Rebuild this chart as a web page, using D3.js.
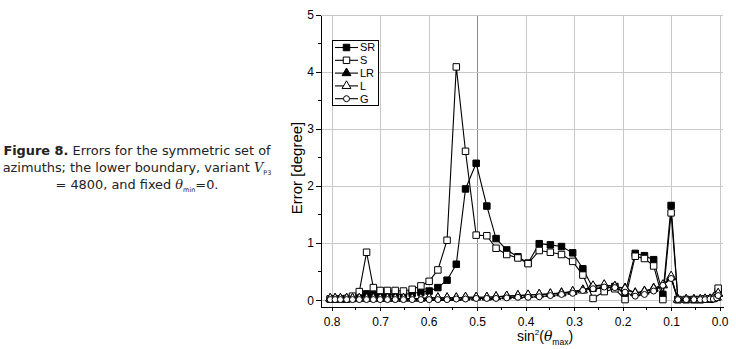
<!DOCTYPE html>
<html lang="en">
  <head>
    <meta charset="utf-8">
    <title>Figure 8</title>
    <script src="https://d3js.org/d3.v7.min.js"></script>
    <style>
      body { margin: 0; background: #fff; }
      .axis path, .axis line { stroke: #000; shape-rendering: crispEdges; }
      .axis text { font-family: "Liberation Sans", Arial, sans-serif; font-size: 12px; fill: #000; }
      .grid line { stroke: #c8c8c8; shape-rendering: crispEdges; }
      .caption { font-family: "DejaVu Sans", Verdana, sans-serif; font-size: 12.9px; fill: #222; }
    </style>
  </head>
  <body>
    <script>
    // data: sin^2(theta_max) positions and errors [degree]
    let xs = [0.803, 0.793, 0.782, 0.769, 0.757, 0.743, 0.728, 0.714, 0.700, 0.685, 0.669, 0.652,
              0.634, 0.616, 0.599, 0.581, 0.562, 0.543, 0.524, 0.502, 0.480, 0.461, 0.439, 0.416,
              0.395, 0.372, 0.349, 0.326, 0.303, 0.282, 0.261, 0.238, 0.216, 0.195, 0.174, 0.155,
              0.136, 0.117, 0.100, 0.086, 0.069, 0.053, 0.040, 0.030, 0.020, 0.013, 0.006, 0.003];

    let SR = [0.02, 0.02, 0.02, 0.02, 0.03, 0.05, 0.11, 0.10, 0.10, 0.10, 0.10, 0.10,
              0.12, 0.14, 0.16, 0.22, 0.35, 0.63, 1.95, 2.40, 1.65, 1.08, 0.88, 0.76,
              0.65, 0.99, 0.97, 0.94, 0.83, 0.55, 0.21, 0.20, 0.24, 0.12, 0.82, 0.78,
              0.71, 0.10, 1.66, 0.01, 0.01, 0.01, 0.01, 0.02, 0.02, 0.03, 0.05, 0.15];

    let S  = [0.02, 0.02, 0.02, 0.03, 0.07, 0.15, 0.84, 0.22, 0.17, 0.17, 0.17, 0.16,
              0.19, 0.25, 0.33, 0.53, 1.05, 4.09, 2.61, 1.14, 1.13, 0.91, 0.80, 0.74,
              0.64, 0.87, 0.84, 0.80, 0.68, 0.44, 0.03, 0.15, 0.20, 0.01, 0.77, 0.73,
              0.60, 0.01, 1.53, 0.01, 0.01, 0.01, 0.01, 0.02, 0.02, 0.03, 0.08, 0.21];

    let LR = [0.03, 0.03, 0.03, 0.03, 0.03, 0.03, 0.03, 0.03, 0.03, 0.03, 0.03, 0.03,
              0.03, 0.03, 0.04, 0.04, 0.04, 0.04, 0.05, 0.05, 0.05, 0.06, 0.07, 0.08,
              0.09, 0.10, 0.11, 0.13, 0.15, 0.18, 0.24, 0.26, 0.24, 0.21, 0.13, 0.16,
              0.21, 0.26, 0.40, 0.01, 0.01, 0.01, 0.01, 0.02, 0.02, 0.03, 0.05, 0.11];

    let L  = [0.03, 0.03, 0.03, 0.03, 0.03, 0.03, 0.03, 0.03, 0.03, 0.03, 0.03, 0.03,
              0.03, 0.03, 0.04, 0.04, 0.04, 0.04, 0.05, 0.05, 0.05, 0.06, 0.07, 0.08,
              0.09, 0.10, 0.11, 0.12, 0.15, 0.17, 0.25, 0.27, 0.24, 0.20, 0.12, 0.15,
              0.20, 0.27, 0.42, 0.01, 0.01, 0.01, 0.01, 0.02, 0.02, 0.03, 0.05, 0.12];

    let G  = [0.01, 0.01, 0.01, 0.01, 0.01, 0.01, 0.01, 0.01, 0.01, 0.01, 0.01, 0.01,
              0.01, 0.01, 0.01, 0.01, 0.01, 0.02, 0.02, 0.03, 0.03, 0.03, 0.04, 0.05,
              0.05, 0.06, 0.08, 0.10, 0.12, 0.17, 0.20, 0.23, 0.22, 0.14, 0.07, 0.10,
              0.16, 0.26, 0.38, 0.01, 0.01, 0.01, 0.01, 0.01, 0.02, 0.02, 0.04, 0.08];

    let seriesNames = ["SR", "S", "LR", "L", "G"];
    let seriesValues = [SR, S, LR, L, G];
    let seriesMarkers = ["square", "square", "triangle", "triangle", "circle"];
    let seriesFilled = [true, false, true, false, false];

    let xTicks = [0.8, 0.7, 0.6, 0.5, 0.4, 0.3, 0.2, 0.1, 0.0];
    let yTicks = [0, 1, 2, 3, 4, 5];

    let captionLines = [
      [["b", "Figure 8."], ["", " Errors for the symmetric set of"]],
      [["", "azimuths; the lower boundary, variant "], ["i", "V"], ["sub", "P3"]],
      [["", "= 4800, and fixed "], ["i", "θ"], ["sub", "min"], ["", "=0."]]
    ];

    //+++++++++++++++++++++++++++++++++++
    let w = 736;
    let h = 349;

    let svg = d3.select("body")
                .append("svg")
                .attr("width", w)
                .attr("height", h);

    // SCALES
    let xScale = d3.scaleLinear().domain([0.822, -0.007]).range([321, 723]);
    let yScale = d3.scaleLinear().domain([-0.12, 5]).range([307, 15]);

    // grid
    let grid = svg.append("g").attr("class", "grid");
    grid.selectAll("line.v")
        .data(xTicks)
        .enter().append("line")
        .attr("class", "v")
        .attr("x1", d => Math.round(xScale(d)) + 0.5)
        .attr("x2", d => Math.round(xScale(d)) + 0.5)
        .attr("y1", yScale(5))
        .attr("y2", yScale(-0.12))
        .style("stroke", d => d === 0.5 ? "#8a8a8a" : null);
    grid.selectAll("line.h")
        .data(yTicks)
        .enter().append("line")
        .attr("class", "h")
        .attr("x1", 321)
        .attr("x2", 723)
        .attr("y1", d => Math.round(yScale(d)) + 0.5)
        .attr("y2", d => Math.round(yScale(d)) + 0.5);

    // x axis
    let xAxis = d3.axisBottom(xScale)
                  .tickValues(xTicks)
                  .tickFormat(d3.format(".1f"))
                  .tickSize(4)
                  .tickSizeOuter(0);
    let gx = svg.append("g")
       .attr("class", "axis")
       .attr("transform", "translate(0,307)")
       .call(xAxis);
    gx.selectAll("text").attr("dy", "1.0em");
    // minor x ticks
    gx.selectAll("line.minor")
      .data(d3.range(0.75, 0, -0.1))
      .enter().append("line")
      .attr("class", "minor")
      .attr("x1", d => xScale(d)).attr("x2", d => xScale(d))
      .attr("y1", 0).attr("y2", 3);

    // y axis
    let yAxis = d3.axisLeft(yScale)
                  .tickValues(yTicks)
                  .tickFormat(d3.format("d"))
                  .tickSize(5)
                  .tickSizeOuter(0);
    let gy = svg.append("g")
       .attr("class", "axis")
       .attr("transform", "translate(321,0)")
       .call(yAxis);
    gy.selectAll("text").attr("x", -7);
    gy.selectAll("line.minor")
      .data([0.5, 1.5, 2.5, 3.5, 4.5])
      .enter().append("line")
      .attr("class", "minor")
      .attr("y1", d => yScale(d)).attr("y2", d => yScale(d))
      .attr("x1", 0).attr("x2", -3);

    // axis titles
    svg.append("text")
       .attr("transform", "translate(302,168) rotate(-90)")
       .attr("text-anchor", "middle")
       .attr("font-family", "Liberation Sans, Arial, sans-serif")
       .attr("font-size", "15px")
       .text("Error [degree]");

    let xt = svg.append("text")
       .attr("x", 545)
       .attr("y", 341)
       .attr("text-anchor", "middle")
       .attr("font-family", "Liberation Sans, Arial, sans-serif")
       .attr("font-size", "14px");
    xt.append("tspan").text("sin");
    xt.append("tspan").attr("font-size", "8px").attr("dy", -6).text("2");
    xt.append("tspan").attr("dy", 6).text("(");
    xt.append("tspan").attr("font-style", "italic").attr("font-family", "DejaVu Serif, serif").text("θ");
    xt.append("tspan").attr("font-size", "8.5px").attr("dy", 4).text("max");
    xt.append("tspan").attr("dy", -4).text(")");

    // markers
    function marker(sel, type, filled) {
      let sym = type === "square" ? d3.symbolSquare : type === "triangle" ? d3.symbolTriangle : d3.symbolCircle;
      let size = type === "square" ? 42 : type === "triangle" ? 34 : 28;
      sel.attr("d", d3.symbol().type(sym).size(size))
         .attr("fill", filled ? "#000" : "#fff")
         .attr("stroke", "#000")
         .attr("stroke-width", 1);
    }

    let line = d3.line()
                 .x(d => xScale(d[0]))
                 .y(d => yScale(d[1]));

    seriesValues.forEach(function (vals, i) {
      let pts = xs.map((x, j) => [x, vals[j]]);
      let g = svg.append("g");
      g.append("path")
       .datum(pts)
       .attr("d", line)
       .attr("fill", "none")
       .attr("stroke", "#000")
       .attr("stroke-width", 1.1);
      g.selectAll("path.pt")
       .data(pts)
       .enter().append("path")
       .attr("class", "pt")
       .attr("transform", d => "translate(" + xScale(d[0]) + "," + yScale(d[1]) + ")")
       .call(marker, seriesMarkers[i], seriesFilled[i]);
    });

    // legend
    let lg = svg.append("g").attr("transform", "translate(332,40)");
    lg.append("rect")
      .attr("x", 0.5).attr("y", 0.5)
      .attr("width", 46).attr("height", 65)
      .attr("fill", "#fff")
      .attr("stroke", "#000");
    let items = lg.selectAll("g.item")
      .data(seriesNames)
      .enter().append("g")
      .attr("class", "item")
      .attr("transform", (d, i) => "translate(0," + (7.5 + i * 12.8) + ")");
    items.append("line")
      .attr("x1", 3).attr("x2", 26)
      .attr("stroke", "#000").attr("stroke-width", 1.1);
    items.append("path")
      .attr("transform", "translate(14.5,0)")
      .each(function (d, i) { d3.select(this).call(marker, seriesMarkers[i], seriesFilled[i]); });
    items.append("text")
      .attr("x", 28).attr("dy", "0.35em")
      .attr("font-family", "Liberation Sans, Arial, sans-serif")
      .attr("font-size", "11px")
      .text(d => d);

    // caption on the left
    let cap = svg.append("g");
    captionLines.forEach(function (parts, i) {
      let t = cap.append("text")
        .attr("class", "caption")
        .attr("x", 137)
        .attr("y", 155 + i * 17)
        .attr("text-anchor", "middle");
      parts.forEach(function (p) {
        let s = t.append("tspan").text(p[1]);
        if (p[0] === "b") s.attr("font-weight", "bold");
        if (p[0] === "i") s.attr("font-style", "italic").attr("font-family", "DejaVu Serif, serif");
        if (p[0] === "sub") s.attr("font-size", "6.5px").attr("baseline-shift", "-3");
      });
    });
    </script>
  </body>
</html>
